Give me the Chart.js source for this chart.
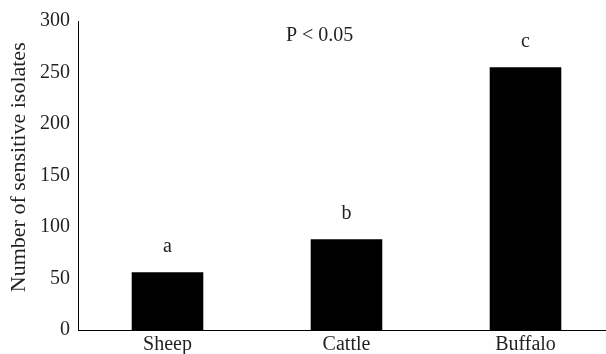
<!DOCTYPE html>
<html>
<head>
<meta charset="utf-8">
<script src="https://cdn.jsdelivr.net/npm/chart.js@4.4.1/dist/chart.umd.min.js"></script>
<style>
  html, body { margin: 0; padding: 0; background: #fff; overflow: hidden; }
  #wrap { width: 620px; height: 354px; }
</style>
</head>
<body>
<div id="wrap"><canvas id="myChart" width="620" height="354"></canvas></div>
<script>
var animals = ['Sheep', 'Cattle', 'Buffalo'];
var sensitiveCounts = [56, 88, 255];
var groupLetters = ['a', 'b', 'c'];
var yTicks = [0, 50, 100, 150, 200, 250, 300];
var pNote = 'P < 0.05';

var serif = '"Liberation Serif", "Times New Roman", serif';
var textColor = '#231f20';

// letters over each bar plus the P note
var notesPlugin = {
    id: 'notes',
    afterDatasetsDraw: function(chart) {
        var ctx = chart.ctx;
        var xs = chart.scales.x, ys = chart.scales.y;
        ctx.save();
        ctx.fillStyle = textColor;
        ctx.font = '20px ' + serif;
        ctx.textAlign = 'center';
        ctx.textBaseline = 'middle';
        sensitiveCounts.forEach(function(v, i) {
            ctx.fillText(groupLetters[i], xs.getPixelForValue(i), ys.getPixelForValue(v) - 26);
        });
        ctx.fillText(pNote, xs.getPixelForValue(0.85), ys.getPixelForValue(286));
        ctx.restore();
    }
};

var ctx = document.getElementById('myChart').getContext('2d');
var myChart = new Chart(ctx, {
    type: 'bar',
    data: {
        labels: animals,
        datasets: [{
            data: sensitiveCounts,
            backgroundColor: '#000',
            borderWidth: 0,
            categoryPercentage: 1.0,
            barPercentage: 0.4
        }]
    },
    options: {
        responsive: false,
        animation: false,
        layout: { padding: { top: 21, right: 5, left: 0, bottom: 0 } },
        plugins: {
            legend: { display: false },
            tooltip: { enabled: false }
        },
        scales: {
            x: {
                grid: { display: false, drawTicks: false },
                border: { color: '#000', width: 1 },
                ticks: { color: textColor, font: { family: serif, size: 20 }, padding: 3 },
                afterFit: function(s) { s.height = 24; }
            },
            y: {
                min: 0,
                max: 300,
                grid: { display: false, drawTicks: false },
                border: { color: '#000', width: 1 },
                afterBuildTicks: function(s) {
                    s.ticks = yTicks.map(function(v) { return { value: v }; });
                },
                ticks: { color: textColor, font: { family: serif, size: 20 }, padding: 8 },
                title: {
                    display: true,
                    // leading spaces nudge the rotated title up a little
                    text: '   Number of sensitive isolates',
                    color: textColor,
                    font: { family: serif, size: 22 },
                    padding: { top: 6, bottom: 0 }
                },
                afterFit: function(s) { s.width = 78; }
            }
        }
    },
    plugins: [notesPlugin]
});
</script>
</body>
</html>
